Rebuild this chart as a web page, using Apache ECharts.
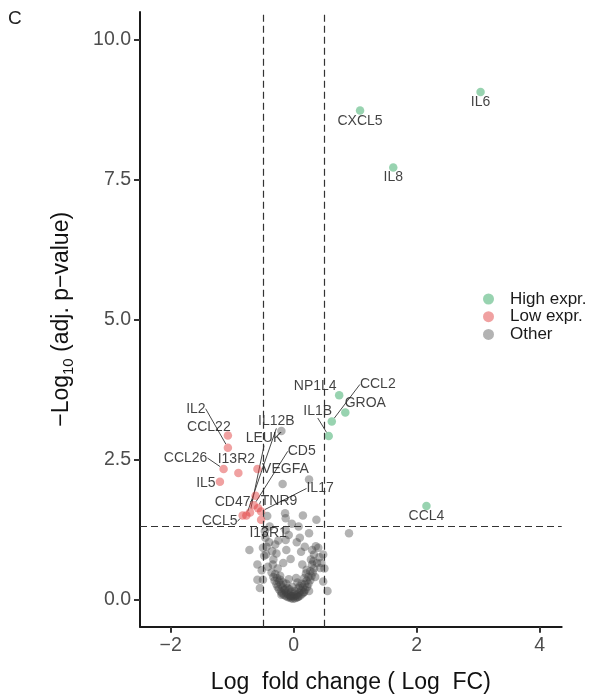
<!DOCTYPE html>
<html><head><meta charset="utf-8">
<script src="https://cdn.jsdelivr.net/npm/echarts@6/dist/echarts.min.js"></script>
<style>html,body{margin:0;padding:0;background:#fff}#c{width:597px;height:695px}</style>
</head><body><div id="c"></div>
<script>
// ---- data ----
const xTicks = [-2, 0, 2, 4];
const yTicks = [0, 2.5, 5, 7.5, 10];
const fcCutoff = 0.5;
const pCutoff = 1.3;

const highGenes = ['IL6', 'CXCL5', 'IL8', 'CCL4', 'NP1L4', 'GROA', 'CCL2', 'IL1B'];
const highLogFC = [3.04, 1.08, 1.62, 2.16, 0.74, 0.84, 0.62, 0.57];
const highLogP  = [9.07, 8.74, 7.72, 1.67, 3.65, 3.34, 3.18, 2.92];

const lowGenes = ['CCL22', 'IL2', 'CCL26', 'I13R2', 'IL5', 'VEGFA', 'LEUK', 'IL12B', 'CCL5', 'CD5', 'CD47', 'TNR9', 'IL17', 'I13R1'];
const lowLogFC = [-1.07, -1.07, -1.14, -0.90, -1.20, -0.59, -0.71, -0.77, -0.83, -0.65, -0.62, -0.58, -0.53, -0.53];
const lowLogP  = [2.93, 2.71, 2.33, 2.26, 2.10, 2.33, 1.55, 1.50, 1.50, 1.68, 1.85, 1.63, 1.57, 1.42];

const otherLogFC = [
  -0.20, 0.25, -0.18, -0.14, -0.13, -0.43, 0.15, 0.37, 0.90, 0.25, -0.13, -0.39, -0.13, -0.72, -0.50, -0.44,
  -0.12, 0.18, -0.59, -0.59, -0.45, -0.33, -0.17, 0.28, 0.32, 0.38, 0.45, 0.43, 0.48, 0.21, -0.50, -0.22,
  -0.46, -0.40, -0.30, -0.48, -0.08, 0.05, 0.12, 0.30, 0.40, 0.48, 0.50, -0.52, -0.55, -0.42, 0.35, 0.55,
  -0.03, 0.08, -0.25, 0.10, -0.47, -0.35, 0.36, 0.42, -0.05, 0.14, -0.28, 0.33,
  -0.36, -0.33, -0.31, -0.28, -0.26, -0.24, -0.21, -0.19, -0.16, -0.13, -0.10, -0.07, -0.04, -0.01, 0.02, 0.05,
  0.08, 0.11, 0.14, 0.17, 0.19, 0.22, 0.24, 0.27, 0.29, 0.31, 0.33,
  -0.30, -0.27, -0.24, -0.21, -0.18, -0.15, -0.12, -0.09, -0.06, -0.03, 0.00, 0.03, 0.06, 0.09, 0.12, 0.15,
  0.18, 0.21, 0.24, -0.22, -0.17, -0.10, -0.04, 0.02, 0.08, 0.13, 0.17, 0.27, -0.26, 0.20, -0.12, 0.06,
  -0.07, 0.10, -0.34, 0.30, 0.00, -0.02, 0.04, -0.08, -0.14, 0.16, -0.20, 0.25, -0.05, 0.07
];
const otherLogP = [
  3.01, 2.14, 2.06, 1.54, 1.45, 1.49, 1.50, 1.42, 1.18, 1.18, 1.24, 1.30, 1.06, 0.88, 0.92, 0.94,
  0.88, 0.94, 0.62, 0.35, 0.80, 0.71, 0.65, 0.71, 0.68, 0.65, 0.65, 0.56, 0.32, 0.53, 0.35, 0.35,
  1.10, 1.02, 0.98, 0.78, 1.15, 1.02, 0.85, 0.88, 0.92, 0.80, 0.55, 0.52, 0.20, 0.58, 0.40, 0.15,
  1.35, 1.30, 1.05, 1.10, 1.22, 0.86, 0.95, 0.75, 0.72, 0.62, 0.82, 0.80,
  0.48, 0.40, 0.33, 0.27, 0.22, 0.18, 0.14, 0.11, 0.08, 0.06, 0.04, 0.03, 0.02, 0.01, 0.02, 0.03,
  0.05, 0.07, 0.10, 0.13, 0.17, 0.22, 0.28, 0.34, 0.41, 0.48, 0.55,
  0.45, 0.38, 0.32, 0.26, 0.21, 0.16, 0.12, 0.09, 0.07, 0.06, 0.05, 0.07, 0.09, 0.12, 0.16, 0.21,
  0.27, 0.33, 0.40, 0.42, 0.30, 0.20, 0.14, 0.15, 0.20, 0.28, 0.38, 0.50, 0.55, 0.46, 0.28, 0.30,
  0.18, 0.24, 0.62, 0.62, 0.10, 0.22, 0.38, 0.36, 0.18, 0.12, 0.08, 0.15, 0.05, 0.04
];

// ---- label placement (pixel offsets, style only) ----
const labelOffset = {
  IL6: [0, 10], CXCL5: [0, 10.5], IL8: [0, 10], CCL4: [0, 10.5],
  NP1L4: [-24, -9], GROA: [20, -9], CCL2: [46, -37], IL1B: [-11, -25],
  CCL22: [-19, -8], IL2: [-32, -39], CCL26: [-38, -11], I13R2: [-2, -14], IL5: [-14, 1],
  VEGFA: [28, 0], LEUK: [14, -74], IL12B: [30, -94], CCL5: [-23, 6], CD5: [48, -54],
  CD47: [-23, 6], TNR9: [21, -7], IL17: [59, -23], I13R1: [7, 13]
};
const withSegment = ['CCL2', 'IL1B', 'IL2', 'CCL26', 'LEUK', 'IL12B', 'CD5', 'IL17', 'CCL5', 'TNR9', 'CD47', 'VEGFA'];

const FONT = '"Liberation Sans", Arial, Helvetica, sans-serif';

function pts(genes, xs, ys) {
  return xs.map((x, i) => ({
    value: [x, ys[i]],
    name: genes ? genes[i] : '',
    labelLine: { show: genes ? withSegment.indexOf(genes[i]) >= 0 : false }
  }));
}
function layoutFor(genes) {
  return function (params) {
    const o = labelOffset[genes[params.dataIndex]] || [0, 0];
    return { dx: o[0], dy: o[1], hideOverlap: false };
  };
}
const labelCfg = {
  show: true, position: 'inside', formatter: p => p.name,
  color: '#111', fontSize: 14, fontFamily: FONT
};
const lineCfg = { show: true, lineStyle: { color: '#333', width: 0.9 } };

const chart = echarts.init(document.getElementById('c'), null, { renderer: 'canvas' });
chart.setOption({
  animation: false,
  backgroundColor: '#fff',
  textStyle: { fontFamily: FONT },
  graphic: [{ type: 'text', left: 8, top: 9, style: { text: 'C', fontSize: 19, fill: '#222', fontFamily: FONT } }],
  grid: { left: 140, right: 35.3, top: 12, bottom: 68.3, containLabel: false, outerBoundsMode: 'none' },
  legend: {
    data: ['High expr.', 'Low expr.', 'Other'],
    orient: 'vertical', left: 478, top: 285.5,
    itemWidth: 11, itemHeight: 11, itemGap: 0.7, icon: 'circle',
    textStyle: { fontSize: 17, color: '#1a1a1a', lineHeight: 17, padding: [0, 0, 0, 11], fontFamily: FONT }
  },
  xAxis: {
    type: 'value', min: -2.5, max: 4.36,
    name: 'Log  fold change ( Log  FC)', nameLocation: 'middle', nameGap: 44,
    nameTextStyle: { fontSize: 23, color: '#111', fontFamily: FONT },
    axisLine: { show: true, onZero: false, lineStyle: { color: '#1a1a1a', width: 2 } },
    axisTick: { show: true, length: 6, lineStyle: { color: '#333', width: 2 }, customValues: xTicks },
    axisLabel: { fontSize: 19.5, color: '#4d4d4d', margin: 9, customValues: xTicks,
      formatter: v => (v < 0 ? '\u2212' : '') + Math.abs(v) },
    splitLine: { show: false }
  },
  yAxis: {
    type: 'value', min: -0.49, max: 10.5,
    name: '{a|\u2212Log}{s|10}{a| (adj. p\u2212value)}', nameLocation: 'middle', nameGap: 64,
    nameTextStyle: { fontFamily: FONT, rich: {
      a: { fontSize: 23, color: '#111', lineHeight: 28, fontFamily: FONT },
      s: { fontSize: 15, color: '#111', lineHeight: 28, verticalAlign: 'bottom', fontFamily: FONT }
    } },
    axisLine: { show: true, onZero: false, lineStyle: { color: '#1a1a1a', width: 2 } },
    axisTick: { show: true, length: 6, lineStyle: { color: '#333', width: 2 }, customValues: yTicks },
    axisLabel: { fontSize: 19.5, color: '#4d4d4d', margin: 9, customValues: yTicks,
      formatter: v => v.toFixed(1) },
    splitLine: { show: false }
  },
  series: [
    {
      name: 'Other', type: 'scatter', symbolSize: 8.5,
      itemStyle: { color: 'rgba(64,64,64,0.5)' },
      data: pts(null, otherLogFC, otherLogP),
      markLine: {
        silent: true, symbol: 'none', animation: false,
        label: { show: false },
        lineStyle: { color: '#333', width: 1.2, type: [7, 4] },
        data: [{ xAxis: -fcCutoff }, { xAxis: fcCutoff }, { yAxis: pCutoff }]
      }
    },
    {
      name: 'Low expr.', type: 'scatter', symbolSize: 8.5,
      itemStyle: { color: 'rgba(224,58,58,0.6)' },
      data: pts(lowGenes, lowLogFC, lowLogP),
      label: labelCfg, labelLine: lineCfg, labelLayout: layoutFor(lowGenes)
    },
    {
      name: 'High expr.', type: 'scatter', symbolSize: 8.5,
      itemStyle: { color: 'rgba(39,163,90,0.6)' },
      data: pts(highGenes, highLogFC, highLogP),
      label: labelCfg, labelLine: lineCfg, labelLayout: layoutFor(highGenes)
    }
  ]
});
</script></body></html>
